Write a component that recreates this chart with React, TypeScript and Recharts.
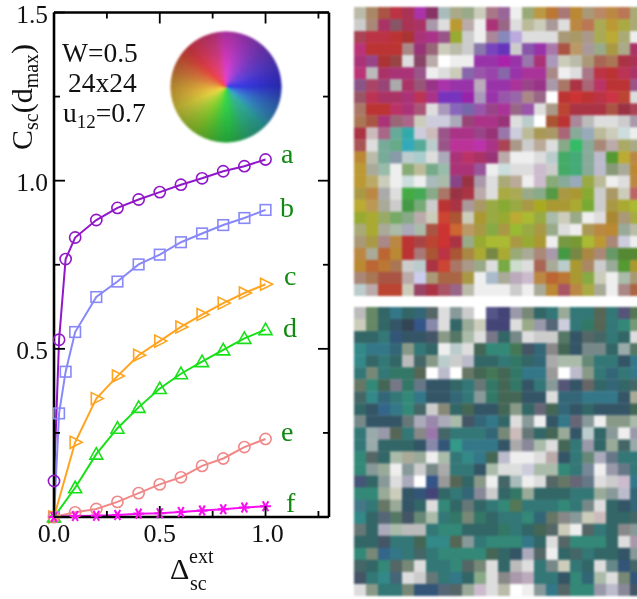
import React from "react";
import { LineChart, Line, XAxis, YAxis, ScatterChart, Scatter, PieChart, Pie, Cell } from "recharts";

const xDense = [0, 0.024, 0.055, 0.1, 0.2, 0.3, 0.4, 0.5, 0.6, 0.7, 0.8, 0.9, 1.0];
const xSparse = [0, 0.1, 0.2, 0.3, 0.4, 0.5, 0.6, 0.7, 0.8, 0.9, 1.0];
const aVals = [0.107, 0.527, 0.767, 0.831, 0.883, 0.919, 0.944, 0.966, 0.988, 1.007, 1.028, 1.043, 1.063];
const bVals = [0, 0.308, 0.432, 0.55, 0.654, 0.70, 0.751, 0.78, 0.817, 0.843, 0.868, 0.889, 0.913];
const cVals = [0, 0.222, 0.352, 0.419, 0.481, 0.523, 0.565, 0.602, 0.636, 0.666, 0.692];
const dVals = [0, 0.087, 0.187, 0.264, 0.326, 0.382, 0.426, 0.462, 0.497, 0.531, 0.557];
const eVals = [0, 0.014, 0.024, 0.045, 0.071, 0.097, 0.118, 0.152, 0.174, 0.208, 0.232];
const fVals = [0, 0.003, 0.004, 0.006, 0.010, 0.011, 0.015, 0.019, 0.023, 0.028, 0.032];
const xTicks = [0, 0.25, 0.5, 0.75, 1, 1.25];
const yTicks = [0, 0.25, 0.5, 0.75, 1, 1.25, 1.5];
const xTickLabels: Record<string, string> = { "0": "0.0", "0.5": "0.5", "1": "1.0" };
const yTickLabels: Record<string, string> = { "0.5": "0.5", "1": "1.0", "1.5": "1.5" };

const wheelColors = [
  "f040d8","e840da","e040dc","d440de","c840e0","bc40e0","b040e0","a440e0","9840e0","8c40e0","8040e0","7640e2",
  "6c40e4","6240e7","5840ea","503ced","4838f0","4038f0","3838f0","3844ec","3850e8","3860e4","3870e0","387cde",
  "3888dc","3894d6","38a0d0","34acc0","30b8b0","30baa4","30bc98","30c090","30c488","30ca74","30d060","30d858",
  "30e050","38e04c","40e048","50e040","60e038","70e034","80e030","90e030","a0e030","ace034","b8e038","c8e03c",
  "d8e040","e4e040","f0e040","f4d840","f8d040","f8c840","f8c040","f4b440","f0a840","f09840","f08840","f07c40",
  "f07040","f46040","f85040","f84848","f84050","f8405c","f84068","f44074","f04080","f0408c","f04098","f040b8",
];

const topRows = [
"bba a86 a54 b34 a35 a3a 836 abb aa8 9a8 ccb a78 969 eee 9a7 b94 b73 a77 b83 a97 b86 b84 b75 aa7",
"ccc a87 a36 856 a35 a36 a9a ddd b93 baa eee a37 968 ddd bb9 ccb a99 ddd b84 b75 aa5 b93 aa4 aa7",
"a45 b34 b34 b33 a33 a37 a38 958 9a3 ccc eee a89 88b bad ddd ddd ddd a97 a96 a98 aa5 ba3 aa7 eee",
"b37 b33 b33 b33 a88 937 967 ccb bba ccc 87a 74b 63b ccc 85a 93a a7a a54 b96 a99 9a8 a94 aa8 a36",
"a37 948 a33 944 ddd 846 baa fff eee eee 93a 93a a2a 93a 97a a37 a9b ccb bba a97 a65 a75 a34 a35",
"b37 bbb a36 a37 a37 958 eee ddd ccb 86a 95a 94a 86a 93a a39 a39 a88 eee ddd a78 b34 b33 b35 a36",
"858 a46 947 aaa a36 957 938 a3a 93a 93a bab 93a 93a a39 948 938 a9a a76 a34 a67 b36 b33 b33 958",
"956 b35 a36 a36 a37 b35 a38 73b 73b 92a a9b 93a 95a 96a a88 968 fff b33 c33 b33 b34 c34 b43 ddd",
"a76 b33 b33 b36 a37 a57 ddd a9b 86b 76a 95a 948 a39 968 95a ddd a98 b43 a34 a34 a34 a54 934 a45",
"a75 a54 a37 967 a68 ccb ccd ccd aab 947 a38 a38 937 ddd bcc fff a53 b33 a89 bbb ddd ddd ccc a9a",
"a34 cbb a68 6a9 3aa ccd cbb 958 a38 a38 948 937 97a ccd bb9 a95 a96 a67 8a9 9ab bb9 ccb cdd eee",
"a55 ddd 7a9 6a8 3ab 5a9 bcc 958 b39 b39 b3a a38 a45 a98 ccc ba9 ddd 8a8 3b6 8a9 a87 baa aa6 aa8",
"b83 bba 7a9 89a bcc acc ddd aab a37 b36 a36 937 baa eee eee ddd bcc 4a6 4a7 8a9 bbc 593 ba3 b84",
"b93 aa9 9ba eee 8a7 bb9 7a8 9ba a37 a37 959 eee cdd ddd ddd cbc ccc 4a6 4a7 8a9 bbc 897 aa9 b83",
"b93 ba6 ccb eee cdd eee abb aba 848 934 a9a ddd aa7 ba9 eee cbc 8a7 8a9 9ab 9a4 bb9 eee ddd b84",
"a94 b84 aaa ddd 4a4 4a5 8a8 a76 934 a34 baa ddd aa4 aa5 9a8 8a8 594 a94 a93 8a3 ccc a96 ccb b66",
"ba3 b95 aa9 ccc 494 7a7 ccc b33 a34 a99 a96 9a4 8a3 9a4 a94 aa2 a93 a93 aa3 7a3 ccc a94 aa3 ab3",
"9a3 aa3 9a6 7a6 8a8 baa ccb c43 a53 ccb a93 9a4 9a3 ba3 ab3 9a4 aba ccb 9a8 eee ddd a83 a97 aa4",
"aa7 aa3 aa9 aba aab aba a54 c33 c63 b96 a94 8a4 a94 9b3 9a4 a94 9a8 ddd eee a95 b84 b83 9a9 bba",
"a97 a94 a88 b84 b33 a44 b43 c33 a34 9a8 9a3 ab3 ab3 a94 9a3 a93 eee 794 793 ab3 b93 a87 ccd eee",
"b84 aa9 b63 b83 b33 a77 a53 b34 a53 a84 aa3 784 aa3 9a7 aa9 a87 a9a 494 784 a84 a87 696 583 583",
"b83 b63 b73 a75 ccc bcc a34 c43 a76 a98 9a8 ddd 7a4 cdc ddd a65 aa9 bcc a93 a86 ccc 9a9 593 a93",
"a87 a75 a54 a54 baa cce a97 a64 a64 a94 eee abc aa9 bab cbc b84 b63 b73 a93 8a4 ccb eee aba a97",
"bcc baa b43 b43 ccb 946 a34 a56 968 bba eee eee eee ccc eee aa9 b83 a56 b84 aa4 aa9 eee a88 a64",
];

const bottomRows = [
"bbb 686 366 378 366 367 566 ddd 899 ccc fff 558 447 99a 787 366 377 9a9 377 377 565 377 557 575",
"ccb 686 366 356 345 358 88a ddd 366 9a9 ccb 447 447 ddd 9a8 99a 567 ccd 377 376 565 377 387 797",
"366 366 377 357 356 356 456 898 576 aba ddd 778 366 788 ddd ccc ccc 576 356 566 466 377 366 ddd",
"388 378 378 367 898 377 366 eee bcc ddd 465 387 387 475 456 367 888 465 356 788 788 366 9aa 576",
"388 366 377 366 bbb 466 898 bcc ccc bbc 366 366 377 376 366 367 aaa aba aba 687 377 377 356 378",
"377 787 377 376 376 565 fff bbc fff 676 465 475 465 376 378 378 999 fff bbc 898 377 367 377 378",
"676 387 465 778 376 678 356 356 366 377 677 376 465 376 356 377 899 557 356 666 366 367 366 466",
"466 388 367 377 387 378 356 356 367 377 899 376 465 465 356 356 ddd 367 367 378 378 378 356 aa9",
"366 356 368 378 387 466 ccc 887 366 465 356 356 465 898 366 667 465 367 356 366 356 356 356 465",
"788 356 356 356 677 aab 98a aab aba 456 367 378 366 ddd 899 eee 356 378 667 899 eee 898 898 aba",
"377 9aa 99a 565 377 888 97a 466 377 377 377 367 787 cbb 677 366 465 9a9 356 bcc 366 899 eee 99a",
"377 9aa 366 366 366 356 88a 357 398 378 378 378 356 aaa 889 aba ddd 465 377 99a 366 9a9 466 9aa",
"387 566 366 aba aa9 9a9 eee aba 377 388 378 465 bbc eee eee ddd baa 356 377 687 aab 678 377 377",
"387 899 9a9 eee 899 ccc 788 aaa 377 377 356 aba ddd ddd ccd aba aba 387 377 789 eee 99a 678 377",
"457 366 899 ddd aab fff 358 999 565 366 898 eee 466 abb eee ddd 566 676 667 678 ddd ccc cbc 378",
"387 387 9a9 ccb 356 357 447 366 377 367 889 ccc 366 376 9a9 366 366 366 377 377 9a9 899 bbc 367",
"478 377 676 9a9 356 366 ddd 387 366 677 366 377 387 575 377 377 377 387 377 788 ddd 366 356 367",
"388 366 567 576 456 687 aba 377 376 787 376 366 377 377 387 367 676 888 899 ccb cbb 366 366 466",
"677 366 aab aba bbb bbb 377 387 387 366 366 366 376 377 366 465 566 ccb eee 566 377 366 888 899",
"366 366 456 377 377 465 388 388 565 899 377 387 387 387 378 366 ddd 566 387 387 387 366 ddd a9a",
"387 787 368 378 377 466 377 387 387 387 387 465 366 356 aab 566 eee 366 466 377 366 366 356 899",
"466 366 387 566 787 ddd 377 377 387 566 787 ddd 366 bbb ddd 377 788 ccb 377 366 ddd 688 357 466",
"456 377 388 467 ddd ccc 677 377 378 366 8a8 ddd 888 a9a bab 377 377 356 387 367 aba ddd 787 357",
"ddd 898 377 377 787 357 357 567 566 9a9 cbc ddd bba fff eee 899 378 566 387 387 99a bbc 889 456",
];

const FONT = "'Liberation Serif', serif";
const toPoints = (xs: number[], ys: number[]) => xs.map((x, i) => ({ x, y: ys[i] }));
const toCells = (rows: string[]) =>
  rows.flatMap((row, r) => row.split(" ").map((c, i) => ({ col: i + 0.5, row: r + 0.5, color: "#" + c })));

type Kind = "circle" | "square" | "right" | "up" | "star";
const marker = (kind: Kind, color: string) => (p: any) => {
  const { cx, cy, index } = p;
  const s = { fill: "none", stroke: color, strokeWidth: 1.6 };
  const key = `${kind}-${color}-${index}`;
  if (kind === "circle") return <circle key={key} cx={cx} cy={cy} r={5.6} {...s} />;
  if (kind === "square") return <rect key={key} x={cx - 5.3} y={cy - 5.3} width={10.6} height={10.6} {...s} />;
  if (kind === "right")
    return <polygon key={key} points={`${cx - 5},${cy - 6} ${cx + 7},${cy} ${cx - 5},${cy + 6}`} {...s} />;
  if (kind === "up")
    return <polygon key={key} points={`${cx},${cy - 6.5} ${cx + 6.5},${cy + 5} ${cx - 6.5},${cy + 5}`} {...s} />;
  return (
    <g key={key} stroke={color} strokeWidth={2.1}>
      <line x1={cx - 5.4} y1={cy} x2={cx + 5.4} y2={cy} />
      <line x1={cx - 2.8} y1={cy - 5} x2={cx + 2.8} y2={cy + 5} />
      <line x1={cx + 2.8} y1={cy - 5} x2={cx - 2.8} y2={cy + 5} />
    </g>
  );
};

const isMajor = (v: number) => Math.abs(v * 2 - Math.round(v * 2)) < 1e-6;

const xTick = (side: "bottom" | "top") => (p: any) => {
  const { x, y, payload } = p;
  const len = isMajor(payload.value) ? 11 : 6;
  const dir = side === "bottom" ? -1 : 1;
  const label = xTickLabels[String(payload.value)];
  return (
    <g>
      <line x1={x} y1={y} x2={x} y2={y + dir * len} stroke="#000" strokeWidth={1.8} />
      {side === "bottom" && label ? (
        <text x={x + (payload.value === 1 ? 2 : 0)} y={y + 25} textAnchor="middle" fontFamily={FONT} fontSize={26} fill="#111">
          {label}
        </text>
      ) : null}
    </g>
  );
};

const yTick = (side: "left" | "right") => (p: any) => {
  const { x, y, payload } = p;
  const len = isMajor(payload.value) ? 11 : 6;
  const dir = side === "left" ? 1 : -1;
  const label = yTickLabels[String(payload.value)];
  return (
    <g>
      <line x1={x} y1={y} x2={x + dir * len} y2={y} stroke="#000" strokeWidth={1.8} />
      {side === "left" && label ? (
        <text x={x - 6} y={y + 10.2} textAnchor="end" fontFamily={FONT} fontSize={25.5} fill="#111">
          {label}
        </text>
      ) : null}
    </g>
  );
};

const seriesList = [
  { name: "a", xs: xDense, ys: aVals, color: "#9118c8", kind: "circle" as Kind, xa: "b", ya: "l" },
  { name: "b", xs: xDense, ys: bVals, color: "#8888f8", kind: "square" as Kind, xa: "b", ya: "l" },
  { name: "c", xs: xSparse, ys: cVals, color: "#ffa420", kind: "right" as Kind, xa: "b", ya: "l" },
  { name: "d", xs: xSparse, ys: dVals, color: "#18e018", kind: "up" as Kind, xa: "b", ya: "l" },
  { name: "e", xs: xSparse, ys: eVals, color: "#f08888", kind: "circle" as Kind, xa: "b", ya: "l" },
  { name: "f", xs: xSparse, ys: fVals, color: "#f810f0", kind: "star" as Kind, xa: "t", ya: "r" },
];

const letterSpots = [
  { t: "a", x: 281, y: 163 },
  { t: "b", x: 280, y: 217 },
  { t: "c", x: 284, y: 285 },
  { t: "d", x: 283, y: 337 },
  { t: "e", x: 281, y: 441 },
  { t: "f", x: 286, y: 512 },
];

function Heat({ rows, top }: { rows: string[]; top: number }) {
  const cells = toCells(rows);
  const w = 288 / 24;
  const h = 289 / 24;
  return (
    <div style={{ position: "absolute", left: 354, top, filter: "blur(0.8px)" }}>
      <ScatterChart width={288} height={289} margin={{ top: 0, right: 0, bottom: 0, left: 0 }}>
        <XAxis type="number" dataKey="col" domain={[0, 24]} hide />
        <YAxis type="number" dataKey="row" domain={[0, 24]} reversed hide />
        <Scatter
          data={cells}
          isAnimationActive={false}
          shape={(p: any) => (
            <rect x={p.cx - w / 2} y={p.cy - h / 2} width={w + 0.3} height={h + 0.3} fill={p.payload.color} />
          )}
        />
      </ScatterChart>
    </div>
  );
}

function Wheel() {
  const data = wheelColors.map((c) => ({ name: c, v: 1 }));
  return (
    <div style={{ position: "absolute", left: 160, top: 21, width: 132, height: 132 }}>
      <div style={{ position: "absolute", left: 0, top: 0, filter: "blur(0.9px)" }}>
        <PieChart width={132} height={132} margin={{ top: 0, right: 0, bottom: 0, left: 0 }}>
          <defs>
            <radialGradient id="edge" cx="50%" cy="50%" r="50%">
              <stop offset="0%" stopColor="#000" stopOpacity={0} />
              <stop offset="35%" stopColor="#000" stopOpacity={0.08} />
              <stop offset="100%" stopColor="#000" stopOpacity={0.3} />
            </radialGradient>
          </defs>
          <Pie
            data={data}
            dataKey="v"
            cx={66}
            cy={66}
            innerRadius={0}
            outerRadius={55.2}
            startAngle={95}
            endAngle={-265}
            isAnimationActive={false}
            label={false}
            labelLine={false}
          >
            {data.map((d, i) => (
              <Cell key={i} fill={"#" + d.name} stroke={"#" + d.name} strokeWidth={0.6} />
            ))}
          </Pie>
          <Pie
            data={[{ name: "shade", v: 1 }]}
            dataKey="v"
            cx={66}
            cy={66}
            innerRadius={0}
            outerRadius={55.5}
            startAngle={90}
            endAngle={-270}
            stroke="none"
            fill="url(#edge)"
            isAnimationActive={false}
          />
        </PieChart>
      </div>
    </div>
  );
}

export default function App() {
  return (
    <div style={{ position: "absolute", left: 0, top: 0, width: 637, height: 599, overflow: "hidden", background: "#fff" }}>
      <div style={{ position: "absolute", left: 0, top: 0, filter: "blur(0.45px)" }}>
        <LineChart width={637} height={599} margin={{ top: 11.5, right: 307, bottom: 81, left: 53 }}>
          <XAxis xAxisId="b" type="number" dataKey="x" domain={[0, 1.3]} ticks={xTicks} interval={0} height={1} tickSize={0} tickMargin={0}
            tickLine={false} axisLine={{ stroke: "#000", strokeWidth: 2.6 }} tick={xTick("bottom")} />
          <XAxis xAxisId="t" orientation="top" type="number" dataKey="x" domain={[0, 1.3]} ticks={xTicks} interval={0} height={1} tickSize={0} tickMargin={0}
            tickLine={false} axisLine={{ stroke: "#000", strokeWidth: 2.6 }} tick={xTick("top")} />
          <YAxis yAxisId="l" type="number" dataKey="y" domain={[0, 1.5]} ticks={yTicks} interval={0} width={1} tickSize={0} tickMargin={0}
            tickLine={false} axisLine={{ stroke: "#000", strokeWidth: 2.6 }} tick={yTick("left")} />
          <YAxis yAxisId="r" orientation="right" type="number" dataKey="y" domain={[0, 1.5]} ticks={yTicks} interval={0} width={1} tickSize={0} tickMargin={0}
            tickLine={false} axisLine={{ stroke: "#000", strokeWidth: 2.6 }} tick={yTick("right")} />
          {seriesList.map((s) => (
            <Line
              key={s.name}
              xAxisId={s.xa}
              yAxisId={s.ya}
              name={s.name}
              data={toPoints(s.xs, s.ys)}
              dataKey="y"
              type="linear"
              stroke={s.color}
              strokeWidth={2}
              dot={marker(s.kind, s.color)}
              activeDot={false}
              isAnimationActive={false}
            />
          ))}
        </LineChart>
        <svg width={637} height={599} style={{ position: "absolute", left: 0, top: 0, pointerEvents: "none" }}>
          <g fontFamily={FONT} fill="#111">
            <text transform="translate(32,150) rotate(-90)" fontSize={30}>
              <tspan>C</tspan>
              <tspan fontSize={20} dy={6}>sc</tspan>
              <tspan dy={-6}>(d</tspan>
              <tspan fontSize={20} dy={6}>max</tspan>
              <tspan dy={-6}>)</tspan>
            </text>
            <text x={62} y={62} fontSize={27.5}>W=0.5</text>
            <text x={68} y={92} fontSize={27.5}>24x24</text>
            <text x={63} y={122} fontSize={27.5}>
              <tspan>u</tspan>
              <tspan fontSize={19} dy={6}>12</tspan>
              <tspan dy={-6}>=0.7</tspan>
            </text>
            <text x={170} y={579} fontSize={30}>Δ</text>
            <text x={189} y={563} fontSize={20}>ext</text>
            <text x={190} y={590} fontSize={20}>sc</text>
          </g>
          <g fontFamily={FONT} fontSize={28} fill="#108a10">
            {letterSpots.map((l) => (
              <text key={l.t} x={l.x} y={l.y}>{l.t}</text>
            ))}
          </g>
        </svg>
      </div>
      <Wheel />
      <Heat rows={topRows} top={6.5} />
      <Heat rows={bottomRows} top={307} />
    </div>
  );
}
